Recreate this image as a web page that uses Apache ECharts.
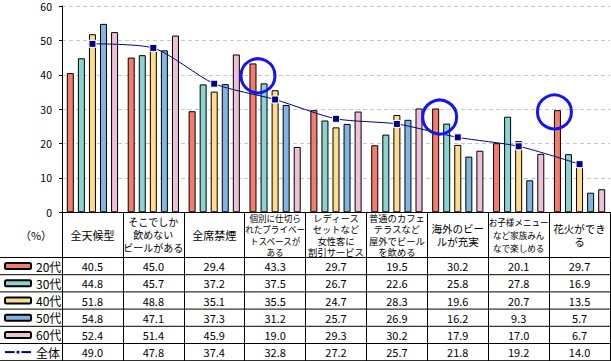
<!DOCTYPE html>
<html>
<head>
<meta charset="utf-8">
<script src="https://cdn.jsdelivr.net/npm/echarts@6/dist/echarts.min.js"></script>
<style>
html,body{margin:0;padding:0;background:#fff;}
#c{width:611px;height:361px;}
</style>
</head>
<body>
<div id="c"></div>
<script>
const categories = ['全天候型', 'そこでしか\n飲めない\nビールがある', '全席禁煙', '個別に仕切ら\nれたプライベー\nトスペースが\nある', 'レディース\nセットなど\n女性客に\n割引サービス', '普通のカフェ\nテラスなど\n屋外でビール\nを飲める', '海外のビー\nルが充実', 'お子様メニュー\nなど家族みん\nなで楽しめる', '花火ができ\nる'];
const seriesNames = ['20代', '30代', '40代', '50代', '60代'];
const totalName = '全体';
const v20 = [40.5, 45.0, 29.4, 43.3, 29.7, 19.5, 30.2, 20.1, 29.7];
const v30 = [44.8, 45.7, 37.2, 37.5, 26.7, 22.6, 25.8, 27.8, 16.9];
const v40 = [51.8, 48.8, 35.1, 35.5, 24.7, 28.3, 19.6, 20.7, 13.5];
const v50 = [54.8, 47.1, 37.3, 31.2, 25.7, 26.9, 16.2, 9.3, 5.7];
const v60 = [52.4, 51.4, 45.9, 19.0, 29.3, 30.2, 17.9, 17.0, 6.7];
const vTotal = [49.0, 47.8, 37.4, 32.8, 27.2, 25.7, 21.8, 19.2, 14.0];
const yTicks = [0, 10, 20, 30, 40, 50, 60];
const unitLabel = '（%）';
// highlighted bars (20代): category index, circle centre value
const highlightCats = [3, 6, 8];
const highlightVals = [39.7, 27.7, 29.2];
const highlightDx = [5, 4, -3];

const colors = ['#F47C6C', '#8AD3D0', '#FFDB8C', '#80B5E3', '#EFC1D6'];
const lineColor = '#000088';
const font = '"Noto Sans CJK JP", "Noto Sans", sans-serif';

const gridLeft = 62, gridTop = 6, gridBottomY = 212.3, W = 611, H = 361;
const headerBottom = 257.5, rowH = 17.2;

const allRows = [v20, v30, v40, v50, v60, vTotal];
const seriesVals = [v20, v30, v40, v50, v60];

const chart = echarts.init(document.getElementById('c'), null, {renderer: 'svg'});

function headerKey(v) {
  const lines = v.split('\n');
  const maxLen = Math.max(...lines.map(l => l.length));
  return 'h' + lines.length + '_' + maxLen;
}
function headerFormatter(v) {
  const key = headerKey(v);
  return v.split('\n').map(l => '{' + key + '|' + l + '}').join('\n');
}
const rich = {};
categories.forEach(c => {
  const lines = c.split('\n');
  const maxLen = Math.max(...lines.map(l => l.length));
  let fs, lh;
  if (lines.length === 1) { fs = 11; lh = 13; }
  else if (lines.length >= 4) { fs = Math.min(9.3, 60 / maxLen); lh = 11.2; }
  else { fs = Math.min(10.5, 60 / maxLen); lh = lines.length === 3 ? 13 : 12.5; }
  rich[headerKey(c)] = {fontSize: fs, lineHeight: lh, fontFamily: font, color: '#000', align: 'center'};
});

const xAxes = [{
  type: 'category',
  data: categories,
  boundaryGap: true,
  position: 'bottom',
  axisLine: {show: true, lineStyle: {color: '#000', width: 1}},
  axisTick: {show: true, interval: 0, length: H - gridBottomY, lineStyle: {color: '#000', width: 1}},
  axisLabel: {
    interval: 0, margin: (headerBottom - gridBottomY) / 2, verticalAlign: 'middle',
    formatter: headerFormatter, rich: rich, color: '#000', fontFamily: font
  },
  splitLine: {show: false}
}];
allRows.forEach((row, k) => {
  xAxes.push({
    type: 'category',
    data: categories,
    position: 'bottom',
    offset: headerBottom + rowH * (k + 0.5) - gridBottomY,
    axisLine: {show: false},
    axisTick: {show: false},
    splitLine: {show: false},
    axisLabel: {
      interval: 0, margin: 0, verticalAlign: 'middle',
      fontSize: 11, lineHeight: 13, fontFamily: font, color: '#000',
      formatter: (v, i) => row[i].toFixed(1)
    }
  });
});

const series = seriesVals.map((vals, i) => ({
  name: seriesNames[i],
  type: 'bar',
  data: vals,
  barWidth: 7,
  barGap: '58%',
  itemStyle: {color: colors[i], borderColor: '#000', borderWidth: 1},
  z: 2
}));
series[0].markPoint = {
  symbol: 'circle',
  symbolSize: 34,
  silent: true,
  z: 10,
  label: {show: false},
  itemStyle: {color: 'rgba(0,0,0,0)', borderColor: '#1414F5', borderWidth: 3},
  data: highlightCats.map((ci, j) => ({
    coord: [ci, highlightVals[j]],
    symbolOffset: [highlightDx[j], 0]
  }))
};
series.push({
  name: totalName,
  type: 'line',
  data: vTotal,
  smooth: 0.25,
  symbol: 'rect',
  symbolSize: 7,
  lineStyle: {color: lineColor, width: 1},
  itemStyle: {color: lineColor, borderColor: '#fff', borderWidth: 1},
  z: 5
});

const graphics = [];
for (let k = 0; k <= allRows.length; k++) {
  const y = headerBottom + rowH * k;
  graphics.push({
    type: 'line', silent: true,
    shape: {x1: 0, y1: y, x2: W - 1, y2: y},
    style: {stroke: '#000', lineWidth: 1}
  });
}
graphics.push({
  type: 'text', silent: true,
  style: {text: unitLabel, x: 36, y: (gridBottomY + headerBottom) / 2, align: 'center', verticalAlign: 'middle', fontSize: 11, fontFamily: font, fill: '#000'}
});

chart.setOption({
  animation: false,
  backgroundColor: '#fff',
  textStyle: {fontFamily: font},
  grid: {left: gridLeft, right: 1, top: gridTop, bottom: H - gridBottomY, containLabel: false},
  legend: {
    data: seriesNames.concat([totalName]),
    orient: 'vertical',
    left: 4,
    top: headerBottom + 1.6,
    padding: 0,
    itemWidth: 26,
    itemHeight: 6,
    itemGap: 3.2,
    selectedMode: false,
    textStyle: {fontSize: 12, lineHeight: 14, color: '#000', fontFamily: font}
  },
  xAxis: xAxes,
  yAxis: {
    type: 'value',
    min: yTicks[0],
    max: yTicks[yTicks.length - 1],
    interval: yTicks[1] - yTicks[0],
    axisLine: {show: true, lineStyle: {color: '#000', width: 1}},
    axisTick: {show: true, length: 3, lineStyle: {color: '#000'}},
    axisLabel: {fontSize: 10.5, lineHeight: 10, color: '#000', margin: 10, fontFamily: font},
    splitLine: {show: true, lineStyle: {color: '#C8C8C8', type: [4, 3], width: 1}}
  },
  series: series,
  graphic: graphics
});
</script>
</body>
</html>
